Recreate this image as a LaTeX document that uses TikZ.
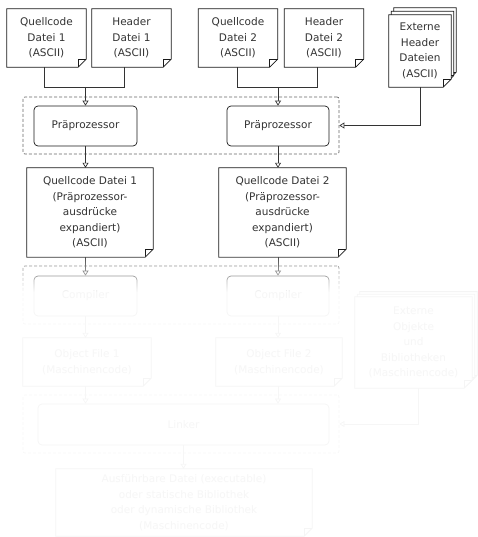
\documentclass[tikz,border=0pt]{standalone}
\usepackage{fontspec}
\setmainfont{DejaVu Sans}
\usetikzlibrary{arrows.meta,fadings}
\pgfdeclarelayer{bg}
\pgfsetlayers{bg,main}
% white veil that grows from clear (top) to opaque (bottom)
\tikzfading[name=veilin, top color=transparent!100, bottom color=transparent!0]
\newcommand\foldsz{8pt}
% sheet outline with a dog-eared lower right corner, shifted by (#2,#3)
\newcommand\dognote[3]{%
  \draw[sheet] ([shift={(#2,#3)}]#1.north west) -- ([shift={(#2,#3)}]#1.north east)
    -- ([shift={(#2,#3+\foldsz)}]#1.south east) -- ([shift={(#2-\foldsz,#3)}]#1.south east)
    -- ([shift={(#2,#3)}]#1.south west) -- cycle;
  \draw[sheet, fill=none] ([shift={(#2-\foldsz,#3)}]#1.south east)
    -- ([shift={(#2-\foldsz,#3+\foldsz)}]#1.south east)
    -- ([shift={(#2,#3+\foldsz)}]#1.south east);}

\begin{document}
\begin{tikzpicture}[x=1pt, y=-1pt,
  every node/.style={font=\fontsize{10.5}{15.5}\selectfont, text=black!80, align=center, inner sep=0pt},
  sheet/.style={draw=black!90, line width=0.7pt, fill=white, line join=miter},
  proc/.style={draw=black!90, line width=0.7pt, rounded corners=4pt, fill=white},
  grp/.style={draw=black!60, line width=0.7pt, dash pattern=on 3pt off 2pt, rounded corners=2pt},
  link/.style={draw=black!80, line width=0.7pt},
  flow/.style={link, -{Triangle[length=5pt, width=6pt, fill=white]}},
]
\useasboundingbox (0,0) rectangle (478,537);

% dashed stage frames
\node[grp, minimum width=316pt, minimum height=57pt] (gpre)  at (181,125.5) {};
\node[grp, minimum width=316pt, minimum height=58pt] (gcomp) at (181,295) {};
\node[grp, minimum width=316pt, minimum height=58pt] (glink) at (181,424) {};

% input files
\node[minimum width=79pt, minimum height=58pt] (src1) at (46.5,38)  {Quellcode\\Datei 1\\(ASCII)};
\node[minimum width=79pt, minimum height=58pt] (hdr1) at (131.5,38) {Header\\Datei 1\\(ASCII)};
\node[minimum width=79pt, minimum height=58pt] (src2) at (238,38)   {Quellcode\\Datei 2\\(ASCII)};
\node[minimum width=79pt, minimum height=58pt] (hdr2) at (324,38)   {Header\\Datei 2\\(ASCII)};
\node[minimum width=62pt, minimum height=72pt] (xhdr) at (420,51)   {Externe\\Header\\Dateien\\(ASCII)};

% preprocessor
\node[proc, minimum width=103pt, minimum height=40pt] (pre1) at (85.5,126) {Präprozessor};
\node[proc, minimum width=102pt, minimum height=40pt] (pre2) at (278,126)  {Präprozessor};

% expanded sources
\node[minimum width=126pt, minimum height=89pt] (exp1) at (90,212.5)
  {Quellcode Datei 1\\(Präprozessor-\\ausdrücke\\expandiert)\\(ASCII)};
\node[minimum width=127pt, minimum height=89pt] (exp2) at (282.5,212.5)
  {Quellcode Datei 2\\(Präprozessor-\\ausdrücke\\expandiert)\\(ASCII)};

% compiler
\node[proc, minimum width=103pt, minimum height=40pt] (comp1) at (85.5,296) {Compiler};
\node[proc, minimum width=102pt, minimum height=40pt] (comp2) at (278,296)  {Compiler};

% object files
\node[minimum width=128pt, minimum height=48pt] (obj1) at (87,362)  {Object File 1\\(Maschinencode)};
\node[minimum width=126pt, minimum height=48pt] (obj2) at (279,362) {Object File 2\\(Maschinencode)};
\node[minimum width=117pt, minimum height=91pt] (xobj) at (413.5,342.5)
  {Externe\\Objekte\\und\\Bibliotheken\\(Maschinencode)};

% linker and result
\node[proc, minimum width=291pt, minimum height=41pt] (lnk) at (183.5,424.5) {Linker};
\node[minimum width=256pt, minimum height=67pt] (exe) at (184,502.5)
  {Ausführbare Datei (executable)\\oder statische Bibliothek\\oder dynamische Bibliothek\\(Maschinencode)};

% sheet outlines behind the texts
\begin{pgfonlayer}{bg}
  \foreach \n in {src1,hdr1,src2,hdr2,exp1,exp2,obj1,obj2,exe} {\dognote{\n}{0pt}{0pt}}
  \dognote{xhdr}{5pt}{7pt}
  \dognote{xhdr}{2.5pt}{3.5pt}
  \dognote{xhdr}{0pt}{0pt}
  \dognote{xobj}{5pt}{5pt}
  \dognote{xobj}{2.5pt}{2.5pt}
  \dognote{xobj}{0pt}{0pt}
\end{pgfonlayer}

% connectors
\coordinate (j1) at (85.5,87);
\coordinate (j2) at (278,87);
\draw[link] ([xshift=-2.5pt]src1.south) |- (j1);
\draw[link] ([xshift=-7.5pt]hdr1.south) |- (j1);
\draw[flow] (j1) -- (pre1.north);
\draw[link] ([xshift=-1pt]src2.south) |- (j2);
\draw[link] ([xshift=-7pt]hdr2.south) |- (j2);
\draw[flow] (j2) -- (pre2.north);
\draw[flow] (xhdr.south) |- (gpre.east);

\draw[flow] (pre1.south) -- (pre1.south |- exp1.north);
\draw[flow] (pre2.south) -- (pre2.south |- exp2.north);
\draw[flow] (comp1.north |- exp1.south) -- (comp1.north);
\draw[flow] (comp2.north |- exp2.south) -- (comp2.north);
\draw[flow] (comp1.south) -- (comp1.south |- obj1.north);
\draw[flow] (comp2.south) -- (comp2.south |- obj2.north);
\draw[flow] (comp1.south |- obj1.south) -- (comp1.south |- lnk.north);
\draw[flow] (comp2.south |- obj2.south) -- (comp2.south |- lnk.north);
\draw[flow] ([xshift=4.5pt]xobj.south) |- (glink.east);
\draw[flow] (lnk.south) -- (lnk.south |- exe.north);

% the later stages are veiled
\fill[white, fill opacity=0.955, path fading=veilin] (-1,252) rectangle (479,292);
\fill[white, fill opacity=0.955] (-1,292) rectangle (479,538);
\end{tikzpicture}
\end{document}
